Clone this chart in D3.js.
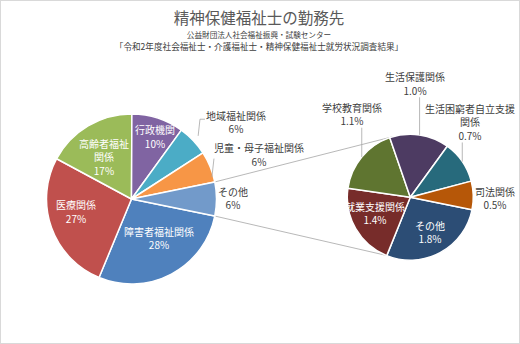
<!DOCTYPE html>
<html><head><meta charset="utf-8">
<script src="https://cdn.jsdelivr.net/npm/d3@7"></script>
<style>body{margin:0;background:#fff}svg{display:block}</style>
</head><body>
<svg id="chart" width="520" height="344"></svg>
<script>
// ---- data ----
const titleText = "精神保健福祉士の勤務先";
const subtitleLines = ["公益財団法人社会福祉振興・試験センター", "「令和2年度社会福祉士・介護福祉士・精神保健福祉士就労状況調査結果」"];
const mainCategories = ["障害者福祉関係", "医療関係", "高齢者福祉関係", "行政機関", "地域福祉関係", "児童・母子福祉関係"];
const mainValues = [28.0, 26.6, 17.2, 9.9, 5.9, 5.9];
const otherLabel = "その他";
const subCategories = ["その他", "就業支援関係", "学校教育関係", "生活保護関係", "生活困窮者自立支援関係", "司法関係"];
const subValues = [1.79, 1.36, 1.12, 0.98, 0.70, 0.47];
const mainColors = ["#4F81BD", "#C0504D", "#9BBB59", "#8064A2", "#4BACC6", "#F79646"];
const otherColor = "#729ACA";
const subColors = ["#2C4D75", "#772C2A", "#5F7530", "#4D3B62", "#276A7C", "#B65708"];

// ---- layout (label placement, wrapping) ----
const wrap = {"高齢者福祉関係": ["高齢者福祉", "関係"], "生活困窮者自立支援関係": ["生活困窮者自立支援", "関係"]};
// [angle (deg, clockwise from 12 o'clock), radius factor, inside?]
const mainLabelPos = {
  "行政機関": [20.6, 0.786, true], "高齢者福祉関係": [327, 0.595, true], "医療関係": [257.3, 0.669, true],
  "障害者福祉関係": [144.8, 0.561, true], "地域福祉関係": [53.6, 1.527, false],
  "児童・母子福祉関係": [70.8, 1.588, false], "その他": [89.4, 1.194, false]
};
const subLabelPos = {
  "その他": [150.5, 0.635, true], "就業支援関係": [245.9, 0.614, true], "学校教育関係": [325, 1.613, false],
  "生活保護関係": [2.4, 1.806, false], "生活困窮者自立支援関係": [38.4, 1.524, false], "司法関係": [90.5, 1.344, false]
};
const FONT = "'Noto Sans CJK JP','Noto Sans',sans-serif";
const W = 520, H = 344;
const C1 = {x: 131.5, y: 199, r: 85};
const C2 = {x: 410.3, y: 197.2, r: 63};
const LH = 13.5;

const svg = d3.select("#chart");
svg.append("rect").attr("x", 0.5).attr("y", 0.5).attr("width", W - 1).attr("height", H - 1)
  .attr("fill", "#fff").attr("stroke", "#d9d9d9");

// titles
svg.append("text").attr("x", 259).attr("y", 24).attr("text-anchor", "middle")
  .attr("font-family", FONT).attr("font-size", 15.5).attr("fill", "#595959").text(titleText);
svg.append("text").attr("x", 259).attr("y", 38).attr("text-anchor", "middle")
  .attr("font-family", FONT).attr("font-size", 7.6).attr("fill", "#404040").text(subtitleLines[0]);
svg.append("text").attr("x", 259).attr("y", 50).attr("text-anchor", "middle")
  .attr("font-family", FONT).attr("font-size", 8.6).attr("fill", "#404040").text(subtitleLines[1]);

const total = d3.sum(mainValues) + d3.sum(subValues);
const otherValue = d3.sum(subValues);
const mainData = mainCategories.map((c, i) => ({name: c, value: mainValues[i], color: mainColors[i]}))
  .concat([{name: otherLabel, value: otherValue, color: otherColor, isOther: true}]);
const subData = subCategories.map((c, i) => ({name: c, value: subValues[i], color: subColors[i]}));

const start = Math.PI / 2 + (otherValue / total) * Math.PI;
const pie = d3.pie().sort(null).value(d => d.value).startAngle(start).endAngle(start + 2 * Math.PI);
const arcs1 = pie(mainData);
const arcs2 = pie(subData);

const polar = (c, deg, rr) => {
  const a = deg * Math.PI / 180;
  return [c.x + rr * Math.sin(a), c.y - rr * Math.cos(a)];
};
const deg = a => a * 180 / Math.PI;

// connector lines
const otherArc = arcs1.find(d => d.data.isOther);
const pA = polar(C1, deg(otherArc.startAngle), C1.r);
const pB = polar(C1, deg(otherArc.endAngle), C1.r);
const qA = polar(C2, -16.4, C2.r);
const qB = polar(C2, 202.6, C2.r);
svg.append("line").attr("x1", pA[0]).attr("y1", pA[1]).attr("x2", qA[0]).attr("y2", qA[1])
  .attr("stroke", "#a6a6a6").attr("stroke-width", 0.8);
svg.append("line").attr("x1", pB[0]).attr("y1", pB[1]).attr("x2", qB[0]).attr("y2", qB[1])
  .attr("stroke", "#a6a6a6").attr("stroke-width", 0.8);

function drawPie(c, arcs) {
  const arc = d3.arc().innerRadius(0).outerRadius(c.r);
  svg.append("g").attr("transform", `translate(${c.x},${c.y})`)
    .selectAll("path").data(arcs).join("path")
    .attr("d", arc).attr("fill", d => d.data.color)
    .attr("stroke", "#fff").attr("stroke-width", 1.5).attr("stroke-linejoin", "round");
}
drawPie(C1, arcs1);
drawPie(C2, arcs2);

function drawLabel(c, d, pos, pctText) {
  const lines = (wrap[d.data.name] || [d.data.name]).concat([pctText]);
  const [cx, cy] = polar(c, pos[0], pos[1] * c.r);
  const t = svg.append("text").attr("text-anchor", "middle").attr("font-family", FONT)
    .attr("font-size", 10).attr("fill", pos[2] ? "#fff" : "#404040");
  lines.forEach((ln, i) => {
    t.append("tspan").attr("x", cx).attr("y", cy + (i - (lines.length - 1) / 2) * LH)
      .attr("dominant-baseline", "central").text(ln);
  });
  const w = t.node().getBBox().width;
  return {cx, cy, w, n: lines.length, left: cx - w / 2, top: cy - (lines.length - 1) / 2 * LH, bottom: cy + (lines.length - 1) / 2 * LH};
}
const midDeg = d => deg((d.startAngle + d.endAngle) / 2);
const leader = pts => svg.append("path").attr("d", d3.line()(pts)).attr("fill", "none")
  .attr("stroke", "#a6a6a6").attr("stroke-width", 0.8);

arcs1.forEach(d => {
  const pct = Math.round(d.data.value / total * 100) + "%";
  const L = drawLabel(C1, d, mainLabelPos[d.data.name], pct);
  if (d.data.name === "地域福祉関係") {
    const s = polar(C1, midDeg(d), C1.r * 1.08);
    leader([s, [L.left - 6, L.top + 4], [L.left - 1, L.top + 4]]);
  } else if (d.data.name === "児童・母子福祉関係") {
    const s = polar(C1, midDeg(d) + 7, C1.r * 0.98);
    leader([s, [L.left, L.cy + 4]]);
  }
});
arcs2.forEach(d => {
  const pct = (d.data.value / total * 100).toFixed(1) + "%";
  const pos = subLabelPos[d.data.name];
  const L = drawLabel(C2, d, pos, pct);
  if (["学校教育関係", "生活保護関係", "生活困窮者自立支援関係"].includes(d.data.name)) {
    const s = polar(C2, midDeg(d), C2.r);
    leader([s, [s[0], L.bottom + 7]]);
  }
});
</script>
</body></html>
